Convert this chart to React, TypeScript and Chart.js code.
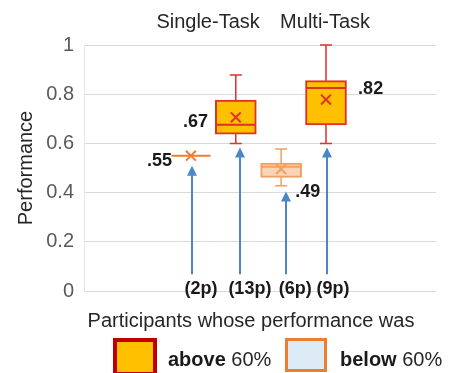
import React, { useEffect, useRef } from 'react';
import { Chart, registerables } from 'chart.js';

Chart.register(...registerables);

// ---- data ----
const groupTitles = ['Single-Task', 'Multi-Task'];
const participantLabels = ['(2p)', '(13p)', '(6p)', '(9p)'];
const boxGroups = ['below', 'above', 'below', 'above'];
const mins = [0.55, 0.6, 0.428, 0.6];
const q1s = [0.55, 0.638, 0.462, 0.675];
const medians = [0.55, 0.676, 0.505, 0.825];
const q3s = [0.55, 0.776, 0.52, 0.855];
const maxs = [0.55, 0.878, 0.577, 1.0];
const means = [0.55, 0.706, 0.496, 0.778];
const valueLabels = ['.55', '.67', '.49', '.82'];
const axisTitle = 'Performance';
const footNote = 'Participants whose performance was';
const legendWords = ['above', 'below'];
const legendThreshold = '60%';

// ---- layout (scale units) ----
const boxX = [2.43, 3.45, 4.48, 5.5];
const arrowX = [2.45, 3.55, 4.59, 5.52];
const arrowTip = [0.509, 0.583, 0.404, 0.583];
const arrowBase = 0.068;
const countX = [2.66, 3.77, 4.8, 5.66];
const countY = 0.01;
const valueLabelX = [2.0, 2.82, 4.8, 6.23];
const valueLabelY = [0.529, 0.688, 0.403, 0.822];
const valueLabelAlign: CanvasTextAlign[] = ['right', 'right', 'left', 'left'];
const groupTitleX = [2.82, 5.48];

// ---- styles ----
const boxBorder = ['#ED7D31', '#E0302A', '#F0A062', '#E0302A'];
const boxFill = ['#F8CBAD', '#FFC000', '#F9D4B6', '#FFC000'];
const arrowColor = '#4A86C8';
const FONT = '"Liberation Sans", Arial, sans-serif';

const plugin = {
  id: 'boxExtras',
  afterDatasetDraw(chart: any, args: any) {
    if (args.index !== 0) return;
    const ctx = chart.ctx;
    const xs = chart.scales.x;
    const ys = chart.scales.y;
    const half = 20.5;
    ctx.save();
    for (let i = 0; i < boxX.length; i++) {
      const cx = xs.getPixelForValue(boxX[i]);
      ctx.strokeStyle = boxBorder[i];
      // whiskers
      ctx.lineWidth = 1.5;
      ctx.beginPath();
      if (maxs[i] > q3s[i]) {
        ctx.moveTo(cx, ys.getPixelForValue(q3s[i]));
        ctx.lineTo(cx, ys.getPixelForValue(maxs[i]));
        ctx.moveTo(cx - 6, ys.getPixelForValue(maxs[i]));
        ctx.lineTo(cx + 6, ys.getPixelForValue(maxs[i]));
      }
      if (mins[i] < q1s[i]) {
        ctx.moveTo(cx, ys.getPixelForValue(q1s[i]));
        ctx.lineTo(cx, ys.getPixelForValue(mins[i]));
        ctx.moveTo(cx - 6, ys.getPixelForValue(mins[i]));
        ctx.lineTo(cx + 6, ys.getPixelForValue(mins[i]));
      }
      ctx.stroke();
      // median
      ctx.lineWidth = 2;
      ctx.beginPath();
      const my = ys.getPixelForValue(medians[i]);
      ctx.moveTo(cx - half + 1, my);
      ctx.lineTo(cx + half - 1, my);
      ctx.stroke();
    }
    ctx.restore();
  },
  afterDraw(chart: any) {
    const ctx = chart.ctx;
    const xs = chart.scales.x;
    const ys = chart.scales.y;
    ctx.save();
    // arrows
    ctx.strokeStyle = arrowColor;
    ctx.fillStyle = arrowColor;
    ctx.lineWidth = 2;
    for (let i = 0; i < arrowX.length; i++) {
      const ax = Math.round(xs.getPixelForValue(arrowX[i]));
      const tip = ys.getPixelForValue(arrowTip[i]);
      const base = ys.getPixelForValue(arrowBase);
      ctx.beginPath();
      ctx.moveTo(ax, base);
      ctx.lineTo(ax, tip + 8);
      ctx.stroke();
      ctx.beginPath();
      ctx.moveTo(ax, tip);
      ctx.lineTo(ax - 5, tip + 10);
      ctx.lineTo(ax + 5, tip + 10);
      ctx.closePath();
      ctx.fill();
    }
    // count labels
    ctx.fillStyle = '#1a1a1a';
    ctx.font = `bold 18px ${FONT}`;
    ctx.textAlign = 'center';
    ctx.textBaseline = 'middle';
    for (let i = 0; i < participantLabels.length; i++) {
      ctx.fillText(participantLabels[i], xs.getPixelForValue(countX[i]), ys.getPixelForValue(countY));
    }
    // value labels
    for (let i = 0; i < valueLabels.length; i++) {
      ctx.textAlign = valueLabelAlign[i];
      ctx.fillText(valueLabels[i], xs.getPixelForValue(valueLabelX[i]), ys.getPixelForValue(valueLabelY[i]));
    }
    // group titles
    ctx.font = `20px ${FONT}`;
    ctx.fillStyle = '#262626';
    ctx.textAlign = 'center';
    for (let i = 0; i < groupTitles.length; i++) {
      ctx.fillText(groupTitles[i], xs.getPixelForValue(groupTitleX[i]), 22);
    }
    // foot note
    ctx.fillText(footNote, 251, 321);
    // legend
    const legendBoxes = [
      { x: 115, y: 340, w: 40, h: 34, lw: 4, stroke: '#C00000', fill: '#FFC000', tx: 168 },
      { x: 286.5, y: 339.5, w: 39, h: 31, lw: 3, stroke: '#ED7D31', fill: '#DDEBF7', tx: 340 },
    ];
    legendBoxes.forEach((b, i) => {
      ctx.fillStyle = b.fill;
      ctx.fillRect(b.x, b.y, b.w, b.h);
      ctx.strokeStyle = b.stroke;
      ctx.lineWidth = b.lw;
      ctx.strokeRect(b.x, b.y, b.w, b.h);
      ctx.fillStyle = '#1a1a1a';
      ctx.textAlign = 'left';
      ctx.font = `bold 20px ${FONT}`;
      const word = legendWords[i] + ' ';
      ctx.fillText(word, b.tx, 360);
      const w = ctx.measureText(word).width;
      ctx.font = `20px ${FONT}`;
      ctx.fillStyle = '#262626';
      ctx.fillText(legendThreshold, b.tx + w, 360);
    });
    ctx.restore();
  },
};

export default function App() {
  const ref = useRef<HTMLCanvasElement>(null);
  useEffect(() => {
    document.body.style.margin = '0';
    const chart = new Chart(ref.current!, {
      data: {
        datasets: [
          {
            type: 'bar',
            order: 2,
            data: boxX.map((x, i) => ({ x, y: [q1s[i], q3s[i]] })) as any,
            backgroundColor: boxFill,
            borderColor: boxBorder,
            borderWidth: 2,
            borderSkipped: false,
            barThickness: 41,
          },
          {
            type: 'scatter',
            order: 1,
            data: boxX.map((x, i) => ({ x, y: means[i] })),
            pointStyle: 'crossRot',
            radius: 7,
            borderWidth: 2,
            borderColor: boxBorder,
            backgroundColor: boxBorder,
          },
        ],
      } as any,
      options: {
        animation: false,
        responsive: false,
        events: [],
        layout: { padding: { top: 45, bottom: 82, right: 15, left: 0 } },
        plugins: { legend: { display: false }, tooltip: { enabled: false } },
        scales: {
          x: { type: 'linear', min: 0, max: 8, offset: false, display: false },
          y: {
            min: 0,
            max: 1,
            afterFit: (s: any) => { s.width = 84; },
            ticks: {
              stepSize: 0.2,
              padding: 10,
              color: '#595959',
              font: { family: FONT, size: 20 },
              callback: (v: any) => String(Number(Number(v).toFixed(1))),
            },
            grid: { color: '#D9D9D9', drawTicks: false },
            border: { display: true, color: '#E6E6E6' },
            title: {
              display: true,
              text: axisTitle,
              color: '#262626',
              font: { family: FONT, size: 20 },
              padding: { top: 14, bottom: 0 },
            },
          },
        },
      } as any,
      plugins: [plugin],
    });
    return () => chart.destroy();
  }, []);
  return (
    <div style={{ width: 451, height: 373 }}>
      <canvas ref={ref} width={451} height={373} style={{ display: 'block' }} />
    </div>
  );
}
